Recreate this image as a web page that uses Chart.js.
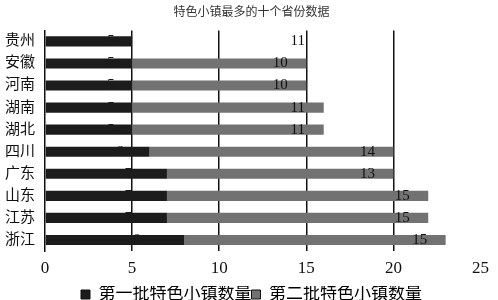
<!DOCTYPE html>
<html lang="zh">
<head>
<meta charset="UTF-8">
<title>特色小镇最多的十个省份数据</title>
<script src="https://cdn.jsdelivr.net/npm/chart.js"></script>
<style>
  html, body { margin: 0; padding: 0; background: #fff; }
  #wrap { width: 498px; height: 300px; }
</style>
</head>
<body>
<div id="wrap"><canvas id="chart"></canvas></div>
<script>
const provinces = ['贵州', '安徽', '河南', '湖南', '湖北', '四川', '广东', '山东', '江苏', '浙江'];
const firstBatch = [5, 5, 5, 5, 5, 6, 7, 7, 7, 8];
const secondBatch = [11, 10, 10, 11, 11, 14, 13, 15, 15, 15];
const seriesNames = ['第一批特色小镇数量', '第二批特色小镇数量'];
const xTicks = [0, 5, 10, 15, 20, 25];

const serif = '"Liberation Serif", "Noto Sans CJK SC", serif';

// value labels drawn near the end of each bar
const valueLabels = {
    id: 'valueLabels',
    afterDatasetsDraw(chart) {
        const ctx = chart.ctx;
        ctx.save();
        ctx.font = '15px ' + serif;
        ctx.textAlign = 'center';
        ctx.textBaseline = 'middle';
        chart.data.datasets.forEach((ds, i) => {
            const meta = chart.getDatasetMeta(i);
            meta.data.forEach((bar, j) => {
                ctx.fillStyle = i === 0 ? '#1c1c1c' : '#111';
                const x = i === 0 ? (bar.base + bar.x) / 2 + 22 : bar.x - 26;
                ctx.fillText(ds.data[j], x, bar.y);
            });
        });
        ctx.restore();
    }
};

new Chart(document.getElementById('chart'), {
    type: 'bar',
    data: {
        labels: provinces,
        datasets: [{
            label: seriesNames[0],
            data: firstBatch,
            backgroundColor: '#1c1c1c',
            barPercentage: 0.46,
            categoryPercentage: 1
        }, {
            label: seriesNames[1],
            data: secondBatch,
            backgroundColor: provinces.map((p, i) => i === 0 ? 'rgba(0,0,0,0)' : '#727272'),
            barPercentage: 0.46,
            categoryPercentage: 1
        }]
    },
    options: {
        indexAxis: 'y',
        responsive: true,
        maintainAspectRatio: false,
        animation: false,
        layout: { padding: { left: 5, right: 0, top: 4, bottom: -13 } },
        scales: {
            x: {
                stacked: true,
                min: 0,
                max: 25,
                afterBuildTicks: axis => { axis.ticks = xTicks.map(v => ({ value: v })); },
                border: { display: false },
                grid: {
                    color: c => (c.tick && (c.tick.value === 0 || c.tick.value === 25)) ? 'rgba(0,0,0,0)' : '#111',
                    lineWidth: 1.5,
                    drawTicks: false
                },
                ticks: { color: '#111', font: { family: serif, size: 17, lineHeight: 1 }, padding: 9 }
            },
            y: {
                stacked: true,
                afterFit: axis => { axis.width = 40; },
                border: { display: true, color: '#111', width: 1.5 },
                grid: { display: false, drawTicks: false },
                ticks: { color: '#111', font: { family: serif, size: 15 }, padding: 10 }
            }
        },
        plugins: {
            title: {
                display: true,
                text: '特色小镇最多的十个省份数据',
                color: '#333',
                font: { family: '"Noto Sans CJK SC", sans-serif', size: 12, weight: 'normal' },
                padding: { top: 0, bottom: 12 }
            },
            legend: {
                position: 'bottom',
                labels: {
                    color: '#111',
                    font: { family: serif, size: 17 },
                    boxWidth: 9,
                    boxHeight: 9,
                    padding: 0,
                    generateLabels: chart => chart.data.datasets.map((ds, i) => ({
                        text: ds.label,
                        fillStyle: i === 0 ? '#1c1c1c' : '#727272',
                        strokeStyle: '#111',
                        lineWidth: 1,
                        datasetIndex: i
                    }))
                }
            },
            tooltip: { enabled: false }
        }
    },
    plugins: [valueLabels]
});
</script>
</body>
</html>
